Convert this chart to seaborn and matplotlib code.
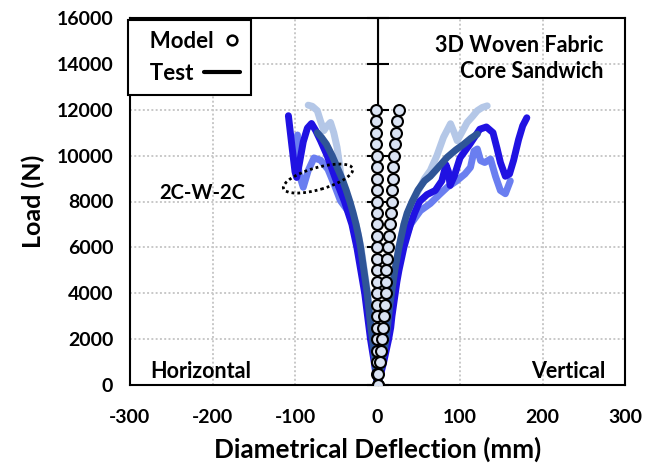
import matplotlib
matplotlib.use("Agg")
import matplotlib.pyplot as plt
import pandas as pd
import seaborn as sns
from matplotlib.lines import Line2D
from matplotlib.patches import Ellipse
from matplotlib.transforms import ScaledTranslation
from matplotlib.legend_handler import HandlerLine2D

# ---------------------------------------------------------------------------
# Model prediction (load in N, diametrical deflection in mm)
# ---------------------------------------------------------------------------
model_load = [0, 500, 1000, 1500, 2000, 2500, 3000, 3500, 4000, 4500, 5000,
              5500, 6000, 6500, 7000, 7500, 8000, 8500, 9000, 9500, 10000,
              10500, 11000, 11500, 12000]
model_horizontal = [0, -0.1, -0.2, -0.3, -0.4, -0.5, -0.5, -0.6, -0.6, -0.7,
                    -0.7, -0.8, -0.8, -0.9, -0.9, -1.0, -1.0, -1.1, -1.1,
                    -1.2, -1.2, -1.3, -1.4, -1.5, -1.6]
model_vertical = [0, 0.8, 2.5, 4.0, 5.5, 7.0, 8.0, 9.0, 9.7, 10.3, 10.8,
                  11.4, 12.3, 13.4, 14.6, 15.8, 17.0, 17.7, 18.4, 19.1, 19.8,
                  21.0, 22.5, 24.0, 25.8]

# ---------------------------------------------------------------------------
# Test curves, four specimens, horizontal (negative) and vertical directions
# ---------------------------------------------------------------------------
s1_h_def = [0, -3, -6, -12, -20, -26, -33, -39, -43, -46, -49, -53, -57, -61,
            -65, -69, -73, -79, -84]
s1_h_load = [0, 1000, 2000, 4000, 6000, 7000, 7700, 8040, 8780, 9600, 10360,
             11000, 11450, 11300, 11090, 11500, 11960, 12150, 12200]
s1_v_def = [0, 5, 11, 17, 26, 32, 40, 50, 57, 64, 72, 80, 88.5, 93, 96.6,
            102, 108.7, 115, 121, 127, 133]
s1_v_load = [0, 1000, 2000, 4000, 6000, 7000, 7800, 8500, 9000, 9350, 10000,
             10800, 11390, 11000, 10650, 11000, 11450, 11700, 11960, 12100,
             12170]

s2_h_def = [0, -3, -7, -13, -22, -28, -36, -45, -52, -60, -69, -77, -84, -90,
            -95, -97, -97]
s2_h_load = [0, 1000, 2000, 4000, 6000, 7000, 7600, 8040, 8700, 9400, 9800,
             9900, 9350, 8620, 9200, 10000, 10900]
s2_v_def = [0, 5, 12, 19, 30, 40, 52, 64, 75, 84.5, 96, 106, 112.7, 117, 121,
            125, 130, 137, 143, 149, 155, 161]
s2_v_load = [0, 1000, 2000, 4000, 6000, 7000, 7600, 7910, 8300, 8620, 8900,
             9200, 9490, 10200, 10290, 9780, 9700, 9850, 9100, 8480, 8340, 8900]

s3_h_def = [0, -4, -8.5, -15.5, -25, -31, -40, -51, -61, -69, -75, -80, -85,
            -90, -95, -98, -100, -104, -108]
s3_h_load = [0, 1000, 2000, 4000, 6000, 7000, 8000, 9000, 10000, 10650,
             11100, 11400, 11200, 10600, 9600, 9050, 9300, 10500, 11740]
s3_v_def = [0, 4, 7.5, 10.5, 13.5, 16, 17.5, 19.5, 21.5, 23.5, 26, 29, 32, 36,
            40, 45, 51, 60, 70, 78, 83, 86, 88, 93, 100, 112, 124, 132, 140,
            145, 149, 155, 160, 165, 171, 176, 181]
s3_v_load = [0, 500, 1000, 1500, 2000, 2500, 3000, 3500, 4000, 4500, 5000,
             5500, 6000, 6500, 7000, 7500, 8000, 8300, 8480, 8900, 9600, 9300,
             8700, 9100, 9900, 10500, 11150, 11250, 11000, 10300, 9700, 9100,
             9200, 9800, 10700, 11300, 11650]

s4_h_def = [0, -1.5, -3, -4.5, -6, -8, -9.5, -11, -12.5, -14.5, -16.5, -18.5,
            -20.5, -23, -26, -29.5, -33.5, -38, -43, -49, -55, -62, -68, -73]
s4_h_load = [0, 500, 1000, 1500, 2000, 2500, 3000, 3500, 4000, 4500, 5000,
             5500, 6000, 6500, 7000, 7500, 8000, 8500, 9000, 9500, 10000,
             10500, 10800, 11000]
s4_v_def = [0, 3, 5.5, 8, 10.5, 12, 13.5, 15, 17, 19, 21, 23.5, 26, 29, 32,
            36, 42, 49, 57, 64, 74, 84.5, 95, 104.6, 113, 121]
s4_v_load = [0, 500, 1000, 1500, 2000, 2500, 3000, 3500, 4000, 4500, 5000,
             5500, 6000, 6500, 7000, 7500, 8000, 8500, 8900, 9100, 9500, 9930,
             10250, 10500, 10750, 10940]

specimen_colors = {"S1": "#B4C7E7", "S2": "#6A7EF0", "S3": "#2012E2",
                   "S4": "#2F5597"}

x_ticks = [-300, -200, -100, 0, 100, 200, 300]
y_ticks = [0, 2000, 4000, 6000, 8000, 10000, 12000, 14000, 16000]

# ---------------------------------------------------------------------------
# Tidy tables
# ---------------------------------------------------------------------------
curves = {
    "S1": [(s1_h_def, s1_h_load), (s1_v_def, s1_v_load)],
    "S2": [(s2_h_def, s2_h_load), (s2_v_def, s2_v_load)],
    "S3": [(s3_h_def, s3_h_load), (s3_v_def, s3_v_load)],
    "S4": [(s4_h_def, s4_h_load), (s4_v_def, s4_v_load)],
}
frames = []
for spec, pairs in curves.items():
    for direction, (d, l) in zip(["horizontal", "vertical"], pairs):
        frames.append(pd.DataFrame({"deflection": d, "load": l,
                                    "specimen": spec, "direction": direction}))
tests = pd.concat(frames, ignore_index=True)

model = pd.concat([
    pd.DataFrame({"deflection": model_horizontal, "load": model_load}),
    pd.DataFrame({"deflection": model_vertical, "load": model_load}),
], ignore_index=True)

# ---------------------------------------------------------------------------
# Figure
# ---------------------------------------------------------------------------
sns.set_style("white")
plt.rcParams["font.family"] = ["Lato", "DejaVu Sans"]
plt.rcParams["font.weight"] = "bold"
plt.rcParams["axes.unicode_minus"] = False
plt.rcParams["text.color"] = "black"
plt.rcParams["axes.labelcolor"] = "black"
plt.rcParams["xtick.color"] = "black"
plt.rcParams["ytick.color"] = "black"

fig = plt.figure(figsize=(6.47, 4.67), dpi=100)
ax = fig.add_axes([130 / 647, 1 - 385 / 467, 495 / 647, 367 / 467])

for z, spec in enumerate(["S1", "S2", "S3", "S4"]):
    sns.lineplot(data=tests[tests.specimen == spec], x="deflection", y="load",
                 units="direction", estimator=None, sort=False,
                 color=specimen_colors[spec], lw=5, solid_capstyle="round",
                 solid_joinstyle="round", zorder=2 + 0.1 * z, ax=ax,
                 legend=False)

sns.scatterplot(data=model, x="deflection", y="load", s=62,
                color="#DAE3F3", edgecolor="black", linewidth=1.5,
                zorder=3, ax=ax, legend=False)

ax.set_xlim(-300, 300)
ax.set_ylim(0, 16000)
ax.set_xticks(x_ticks)
ax.set_yticks(y_ticks)
ax.grid(True, linestyle=(0, (1, 1.2)), color="#c8c8c8", lw=1.4)
ax.get_xgridlines()[x_ticks.index(0)].set_visible(False)
for sp in ax.spines.values():
    sp.set_color("black")
    sp.set_linewidth(1.5)
ax.tick_params(axis="x", direction="out", length=6, width=1.5,
               labelsize=14, pad=11, colors="black")
ax.tick_params(axis="y", length=0, labelsize=14, pad=12, colors="black")
for lab in ax.get_xticklabels() + ax.get_yticklabels():
    lab.set_fontweight("bold")

# vertical axis crossing at zero deflection
ax.axvline(0, color="black", lw=1.5, zorder=1.9)
center = ax.secondary_yaxis(0.5)
center.set_zorder(1)
center.set_yticks(y_ticks)
center.tick_params(direction="inout", length=16, width=1.5, colors="black",
                   labelleft=False, labelright=False)

ax.set_xlabel("Diametrical Deflection (mm)", fontsize=18.8, fontweight="bold",
              labelpad=8, color="black")
ax.set_ylabel("Load (N)", fontsize=18, fontweight="bold", labelpad=8,
              color="black")

ax.text(0.956, 0.926, "3D Woven Fabric", transform=ax.transAxes,
        ha="right", va="center", fontsize=15.5, fontweight="bold")
ax.text(0.956, 0.853, "Core Sandwich", transform=ax.transAxes,
        ha="right", va="center", fontsize=15.5, fontweight="bold")
ax.text(0.040, 0.038, "Horizontal", transform=ax.transAxes,
        ha="left", va="center", fontsize=15.5, fontweight="bold")
ax.text(0.960, 0.038, "Vertical", transform=ax.transAxes,
        ha="right", va="center", fontsize=15.5, fontweight="bold")
ax.text(-212, 8390, "2C-W-2C", ha="center", va="center", fontsize=14.5,
        fontweight="bold")

# dotted ring around the 2C-W-2C horizontal responses
ring = Ellipse((0, 0), width=0.72, height=0.22, angle=16, fill=False,
               edgecolor="black", lw=2.0, linestyle=(0, (1, 1.1)),
               transform=fig.dpi_scale_trans + ScaledTranslation(-72, 9000,
                                                                 ax.transData),
               zorder=4)
ax.add_artist(ring)

# legend: labels first, symbols on the right
model_handle = Line2D([], [], marker="o", linestyle="none", markersize=7,
                      markerfacecolor="white", markeredgecolor="black",
                      markeredgewidth=1.8, label="  Model")
test_handle = Line2D([], [], color="black", lw=3, label="  Test")
leg = ax.legend(handles=[model_handle, test_handle],
                handler_map={model_handle: HandlerLine2D(numpoints=1, xpad=0.1),
                             test_handle: HandlerLine2D(xpad=-0.75)},
                loc="upper left", bbox_to_anchor=(-0.004, 0.995),
                borderaxespad=0, markerfirst=False, frameon=True,
                fancybox=False, framealpha=1, edgecolor="black",
                handlelength=0.85, handletextpad=0.33,
                prop={"size": 16, "weight": "bold"}, borderpad=0.5,
                labelspacing=0.5, labelcolor="black")
leg.get_frame().set_linewidth(1.5)

# keep the label column left-aligned
fig.canvas.draw()
w_model = leg.get_texts()[0].get_window_extent().width
w_test = leg.get_texts()[1].get_window_extent().width
leg.get_texts()[1].set_x(-(w_model - w_test))

fig.savefig("out.png", dpi=100)
